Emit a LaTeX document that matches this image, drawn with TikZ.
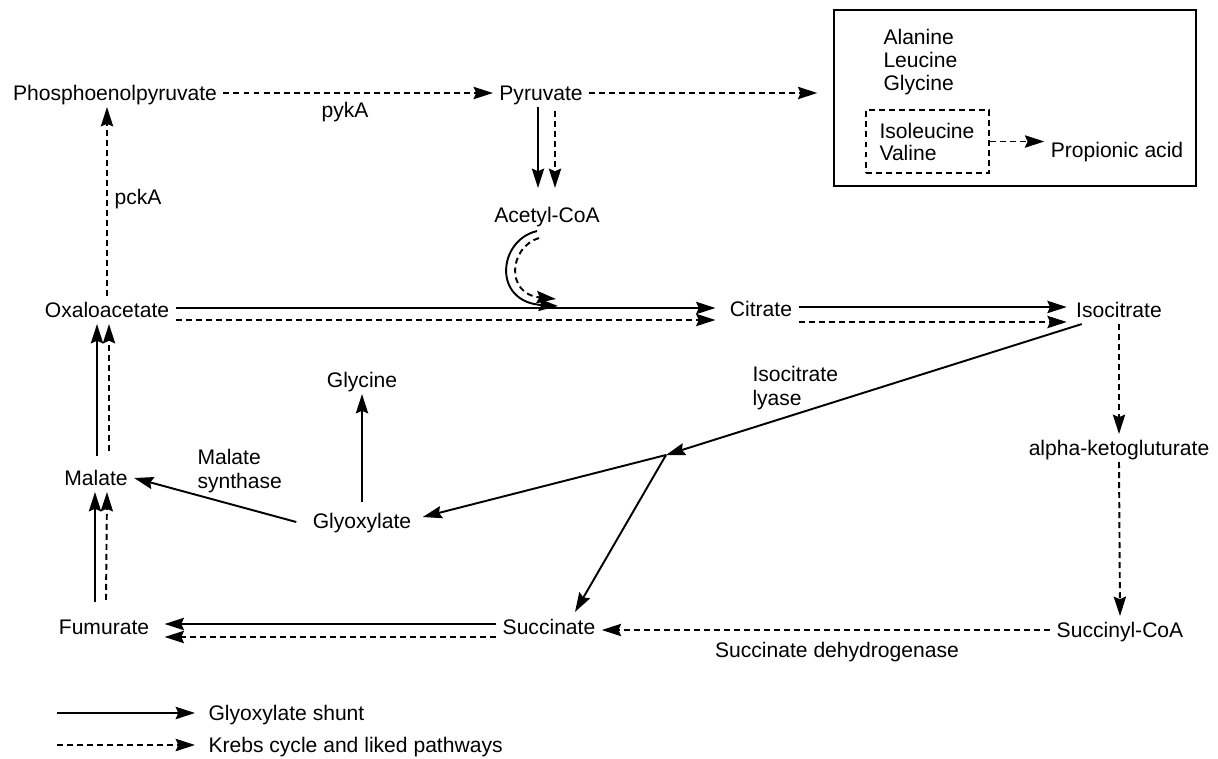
\documentclass[tikz,border=0pt]{standalone}
\usepackage{fontspec}
\setmainfont{Liberation Sans}
\usetikzlibrary{arrows.meta,positioning,calc,fit}

\begin{document}
\begin{tikzpicture}[x=0.02cm,y=-0.02cm,
        metab/.style={font=\fontsize{12}{13.5}\selectfont,inner sep=3.5pt,text height=8.6pt,text depth=0pt},
        lbl/.style={font=\fontsize{12}{13.5}\selectfont,inner sep=3.5pt,align=left},
        shunt/.style={-{Stealth[length=11pt,width=7pt,inset=1.5pt]},line width=1.1pt},
        krebs/.style={shunt,dash pattern=on 3.4pt off 2.3pt}]
    \useasboundingbox (0,0) rectangle (1218,758);

    % Metabolites
    \node[metab] (pep) at (115,93) {Phosphoenolpyruvate};
    \node[metab] (pyr) at (541,93) {Pyruvate};
    \node[metab] (acoa) at (547,215) {Acetyl-CoA};
    \node[metab] (oaa) at (107,310) {Oxaloacetate};
    \node[metab] (cit) at (761,309) {Citrate};
    \node[metab] (icit) at (1119,310) {Isocitrate};
    \node[metab] (akg) at (1119,448) {alpha-ketogluturate};
    \node[metab] (scoa) at (1120,630) {Succinyl-CoA};
    \node[metab] (succ) at (549,627) {Succinate};
    \node[metab] (fum) at (104,627) {Fumurate};
    \node[metab] (mal) at (96,478) {Malate};
    \node[metab] (glyox) at (362,521) {Glyoxylate};
    \node[metab] (gly) at (362,380) {Glycine};

    % Enzymes
    \node[metab] (pyka) at (345,110) {pykA};
    \node[metab] (pcka) at (138,197) {pckA};
    \node[lbl, anchor=north west] (msyn) at (191,443) {Malate\\synthase};
    \node[lbl, anchor=north west] (ilyase) at (746,360) {Isocitrate\\lyase};
    \node[metab] (sdh) at (837,650) {Succinate dehydrogenase};

    % Amino acid box
    \node[draw, line width=1pt, fit={(834,10) (1196,186)}, inner sep=0pt] (aabox) {};
    \node[metab, anchor=west] (ala) at (877,37) {Alanine};
    \node[metab, anchor=west] (leu) at (877,60) {Leucine};
    \node[metab, anchor=west] (glyb) at (877,83) {Glycine};
    \node[metab, anchor=west] (ile) at (873,131) {Isoleucine};
    \node[metab, anchor=west] (val) at (873,153) {Valine};
    \node[draw, dash pattern=on 3.4pt off 2.3pt, line width=1pt, fit={(866,110) (989,173)}, inner sep=0pt] (minibox) {};
    \node[metab] (prop) at (1117,150) {Propionic acid};
    \draw[krebs] (minibox.east) -- (minibox.east -| prop.west);

    % Top row
    \draw[krebs] (pep) -- (pyr);
    \draw[krebs] (pyr.east) -- ([xshift=-9pt]aabox.west |- pyr.east);
    \draw[shunt] ($(pyr.south)+(-3,0)$) -- ($(acoa.north)+(-9,-13)$);
    \draw[krebs] ($(pyr.south)+(14,4)$) -- ($(acoa.north)+(8,-13)$);

    % Acetyl-CoA into the cycle
    \coordinate (join) at (558,306);
    \coordinate (joinb) at (556,299);
    \draw[shunt] ($(acoa.south)+(-10,2)$) .. controls (498,240) and (492,302) .. (join);
    \draw[krebs] ($(acoa.south)+(-8,9)$) .. controls (509,247) and (505,294) .. (joinb);

    % Cycle
    \draw[shunt] ($(oaa.east)+(0,-2)$) -- ($(cit.west)+(-8,-1)$);
    \draw[krebs] ($(oaa.east)+(0,10)$) -- ($(cit.west)+(-8,11)$);
    \draw[shunt] ($(cit.east)+(0,-2)$) -- ($(icit.west)+(-3,-3)$);
    \draw[krebs] ($(cit.east)+(0,13)$) -- ($(icit.west)+(-3,12)$);
    \draw[krebs] (icit.south) -- (akg.north);
    \draw[krebs] (akg.south) -- (scoa.north);
    \draw[krebs] (scoa.west) -- (scoa.west -| succ.east);
    \draw[shunt] ($(succ.west)+(0,-3)$) -- ($(fum.east)+(9,-3)$);
    \draw[krebs] ($(succ.west)+(0,10)$) -- ($(fum.east)+(9,10)$);
    \draw[shunt] ($(fum.north)+(-9,-11)$) -- ($(mal.south)+(-1,0)$);
    \draw[krebs] ($(fum.north)+(2,-13)$) -- ($(mal.south)+(11,0)$);
    \draw[shunt] ($(mal.north)+(1,-8)$) -- ($(oaa.south)+(-10,0)$);
    \draw[krebs] ($(mal.north)+(13,-13)$) -- ($(oaa.south)+(2,0)$);
    \draw[krebs] (oaa.north) -- (oaa.north |- pep.south);

    % Glyoxylate shunt
    \coordinate (split) at (666,455);
    \draw[shunt] ($(icit.south west)+(12,0)$) -- (split);
    \draw[shunt] (split) -- ($(glyox.east)+(5,-4)$);
    \draw[shunt] (split) -- ($(succ.north)+(26,-1)$);
    \draw[shunt] ($(glyox.west)+(-10,1)$) -- (mal.east);
    \draw[shunt] ($(glyox.north)+(0,-5)$) -- (gly.south);

    % Legend
    \coordinate (legA) at (57,713);
    \coordinate (legB) at (57,745);
    \node[metab, anchor=west] (legshunt) at (202,713) {Glyoxylate shunt};
    \node[metab, anchor=west] (legkrebs) at (202,745) {Krebs cycle and liked pathways};
    \draw[shunt] (legA) -- ($(legshunt.west)+(-7,0)$);
    \draw[krebs] (legB) -- ($(legkrebs.west)+(-7,0)$);
\end{tikzpicture}
\end{document}
